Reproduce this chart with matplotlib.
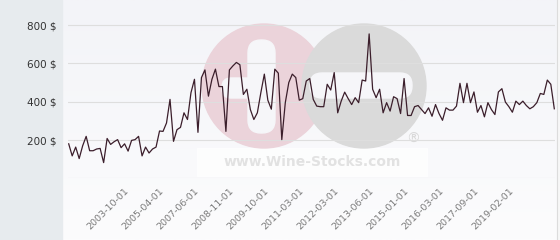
import numpy as np
import matplotlib
matplotlib.use("Agg")
import matplotlib.pyplot as plt
from matplotlib.patches import Circle, FancyBboxPatch, Rectangle

# price history (one point per listing date)
prices = [
    180, 117, 163, 103, 170, 219, 144, 144, 153, 156, 82, 208, 177, 191, 202,
    160, 180, 142, 198, 202, 219, 117, 163, 132, 153, 163, 247,
    245, 289, 412, 193, 254, 266, 342, 307, 447, 517, 240, 526, 566, 429, 517,
    570, 479, 479, 245, 566, 587, 605, 593, 438, 465, 359, 307, 342, 447, 544,
    408, 361, 570, 549, 202, 395, 500, 544, 526, 408, 416, 508, 521, 412, 377,
    374, 374, 491, 461, 552, 342, 403, 450,
    416, 385, 421, 395, 513, 508, 754, 465, 421, 465, 342, 395, 351, 426, 416,
    338, 521, 328, 328, 374, 380, 359, 338, 368, 324, 385, 338, 303, 368, 356,
    356, 377,
    496, 395, 496, 395, 451, 345, 380, 321, 395, 359, 333, 451, 468, 398, 374,
    345, 403, 385, 403, 380, 363, 374, 395, 443, 438, 513, 491, 363,
]

tick_labels = ["2003-10-01", "2005-04-01", "2007-06-01", "2008-11-01",
               "2009-10-01", "2011-03-01", "2012-03-01", "2013-06-01",
               "2015-01-01", "2016-03-01", "2017-09-01", "2019-02-01"]
tick_index = [16, 26, 36, 46, 56, 66, 76, 86, 96, 106, 116, 126]
y_ticks = [0, 200, 400, 600, 800]

W, H = 560, 240
fig = plt.figure(figsize=(5.6, 2.4), dpi=100)

# background + watermark, drawn in pixel coordinates
bg = fig.add_axes([0, 0, 1, 1])
bg.set_xlim(0, W)
bg.set_ylim(H, 0)
bg.axis("off")
grad = np.linspace(0, 1, 100).reshape(-1, 1)
bg.imshow(grad, extent=(62, 557, H, 0), aspect="auto",
          cmap=matplotlib.colors.LinearSegmentedColormap.from_list(
              "bgg", ["#f3f4f8", "#fcfcfd"]), zorder=0)
bg.add_patch(Rectangle((0, 0), 62, H, color="#e7ebee", zorder=1))
bg.add_patch(Rectangle((557, 0), 3, H, color="#f7f7f7", zorder=1))
bg.plot([557, 557], [0, H], color="#dcdcdc", lw=0.8, zorder=1)

bg.add_patch(Rectangle((197, 148), 230, 28, color="white", alpha=0.7, zorder=1))
bg.add_patch(Circle((264, 86), 62, color="#ebd3da", zorder=2))
bg.add_patch(FancyBboxPatch((222, 78), 40, 20, boxstyle="round,pad=0,rounding_size=9",
                            color="#f6f6f9", zorder=3))
bg.add_patch(FancyBboxPatch((248, 40), 27, 93, boxstyle="round,pad=0,rounding_size=13",
                            color="#f6f6f9", zorder=3))
bg.add_patch(Circle((364, 86), 62, color="#dadada", zorder=4))
bg.add_patch(FancyBboxPatch((310, 73), 102, 25, boxstyle="round,pad=0,rounding_size=12",
                            color="#f6f6f9", zorder=5))
bg.text(312, 162, "www.Wine-Stocks.com", ha="center", va="center", fontsize=10,
        fontweight="bold", color="#e2e2e2", zorder=5)
bg.text(413, 139, "®", ha="center", va="center", fontsize=10,
        color="#d8d8d8", zorder=5)

# data axes: plotting area spans the grid lines
x0, x1 = 68, 555
ax = fig.add_axes([x0 / W, 1 - 178.3 / H, (x1 - x0) / W, (178.3 - 10) / H])
ax.patch.set_alpha(0)
x = np.arange(len(prices))
ax.plot(x, prices, color="#3b1e2b", lw=0.9, zorder=3)

ax.set_xlim(-0.2, len(prices) - 1 + 0.2)
ax.set_ylim(0, (178.3 - 10) * 200 / 38.3)
ax.set_yticks(y_ticks[1:])
ax.set_yticklabels([f"{v} $" for v in y_ticks[1:]], fontsize=7.5, color="#333333")
ax.yaxis.grid(True, color="#dedede", lw=0.8)
ax.axhline(0, color="#dedede", lw=0.8)
ax.set_axisbelow(True)
ax.tick_params(axis="y", length=0, pad=8.5)

ax.set_xticks(tick_index)
ax.set_xticklabels(tick_labels, fontsize=6.8, color="#7a7a7a",
                   rotation=45, ha="right", va="top", rotation_mode="anchor")
ax.tick_params(axis="x", length=0, pad=5.5)
for lbl in ax.get_xticklabels():
    lbl.set_x(lbl.get_position()[0])
for s in ax.spines.values():
    s.set_visible(False)

fig.savefig("out.png", dpi=100)
